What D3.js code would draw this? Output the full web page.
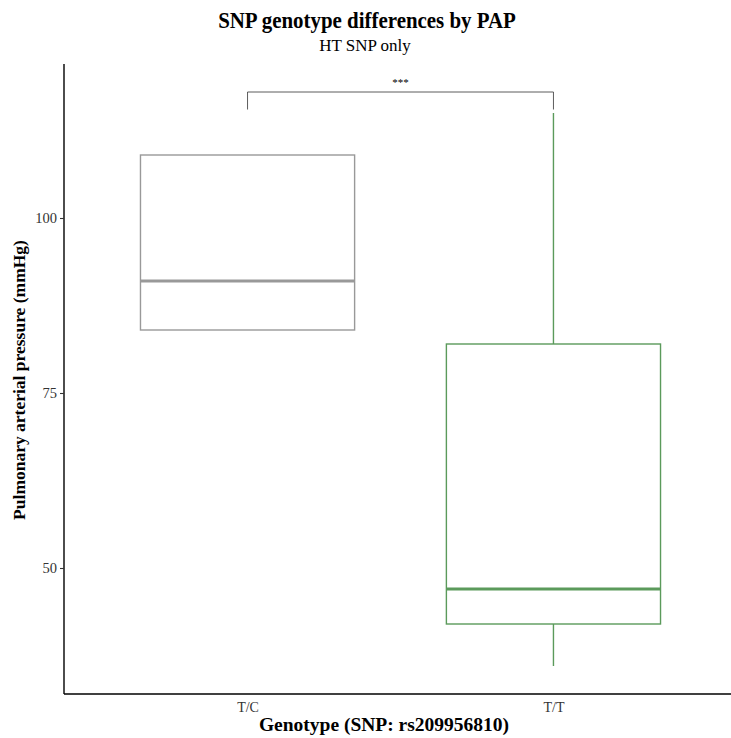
<!DOCTYPE html>
<html>
<head>
<meta charset="utf-8">
<script src="https://cdn.jsdelivr.net/npm/d3@7"></script>
<style>
  body { margin: 0; background: #fff; }
  text { font-family: "Liberation Serif", "Times New Roman", serif; }
</style>
</head>
<body>
<div id="chart"></div>
<script>
// box stats per genotype (mmHg)
var genotypes = ["T/C", "T/T"];
var lowWhisker = [84, 36];
var q1 = [84, 42];
var median = [91, 47];
var q3 = [109, 82];
var highWhisker = [109, 115];
var boxColors = ["#999999", "#5b9a5b"];
var yTicks = [50, 75, 100];
var sigLabel = "***";
var sigLevel = 118, sigDrop = 115.5;

var width = 731, height = 738;
var margin = {top: 64, right: -6, bottom: 44, left: 64};

var svg = d3.select("#chart").append("svg")
  .attr("width", width)
  .attr("height", height);

var x = d3.scalePoint()
  .domain(genotypes)
  .range([margin.left, width - margin.right])
  .padding(0.6);

var y = d3.scaleLinear()
  .domain([32, 122])
  .range([height - margin.bottom, margin.top]);

var boxW = x.step() * 0.7;

var data = genotypes.map(function(g, i) {
  return {g: g, lo: lowWhisker[i], q1: q1[i], med: median[i], q3: q3[i], hi: highWhisker[i], col: boxColors[i]};
});

var boxes = svg.selectAll("g.box")
  .data(data)
  .enter()
  .append("g")
  .attr("class", "box");

// whiskers
boxes.append("line")
  .attr("x1", function(d){ return x(d.g); })
  .attr("x2", function(d){ return x(d.g); })
  .attr("y1", function(d){ return y(d.q3); })
  .attr("y2", function(d){ return y(d.hi); })
  .attr("stroke", function(d){ return d.col; })
  .attr("stroke-width", 1.4);
boxes.append("line")
  .attr("x1", function(d){ return x(d.g); })
  .attr("x2", function(d){ return x(d.g); })
  .attr("y1", function(d){ return y(d.q1); })
  .attr("y2", function(d){ return y(d.lo); })
  .attr("stroke", function(d){ return d.col; })
  .attr("stroke-width", 1.4);

boxes.append("rect")
  .attr("x", function(d){ return x(d.g) - boxW / 2; })
  .attr("y", function(d){ return y(d.q3); })
  .attr("width", boxW)
  .attr("height", function(d){ return y(d.q1) - y(d.q3); })
  .attr("fill", "white")
  .attr("stroke", function(d){ return d.col; })
  .attr("stroke-width", 1.4);

boxes.append("line")
  .attr("x1", function(d){ return x(d.g) - boxW / 2; })
  .attr("x2", function(d){ return x(d.g) + boxW / 2; })
  .attr("y1", function(d){ return y(d.med); })
  .attr("y2", function(d){ return y(d.med); })
  .attr("stroke", function(d){ return d.col; })
  .attr("stroke-width", 2.8);

// axes
var yAxis = svg.append("g")
  .attr("transform", "translate(" + margin.left + ",0)")
  .call(d3.axisLeft(y).tickValues(yTicks).tickSize(4).tickPadding(3));
yAxis.select(".domain").attr("d", "M0," + margin.top + "V" + (height - margin.bottom))
  .attr("stroke", "#000").attr("stroke-width", 1.4);
yAxis.selectAll(".tick line").attr("stroke", "#333").attr("stroke-width", 1.1);
yAxis.selectAll(".tick text")
  .style("font-family", "Liberation Serif")
  .style("font-size", "14.5px")
  .attr("fill", "#333");

var xAxis = svg.append("g")
  .attr("transform", "translate(0," + (height - margin.bottom) + ")")
  .call(d3.axisBottom(x).tickSize(0).tickPadding(8));
xAxis.select(".domain").attr("d", "M" + margin.left + ",0H" + (width - margin.right))
  .attr("stroke", "#000").attr("stroke-width", 1.4);
xAxis.selectAll(".tick text")
  .style("font-family", "Liberation Serif")
  .style("font-size", "14px")
  .attr("fill", "#333");

// significance bracket
var x0 = x(genotypes[0]), x1 = x(genotypes[1]);
svg.append("path")
  .attr("d", "M" + x0 + "," + y(sigDrop) + "V" + y(sigLevel) + "H" + x1 + "V" + y(sigDrop))
  .attr("fill", "none")
  .attr("stroke", "#333")
  .attr("stroke-width", 0.8);
svg.append("text")
  .attr("x", (x0 + x1) / 2)
  .attr("y", y(sigLevel) - 6)
  .attr("text-anchor", "middle")
  .attr("fill", "#000")
  .style("font-size", "11px")
  .text(sigLabel);

// titles
svg.append("text")
  .attr("transform", "translate(367,28) scale(0.91,1)")
  .attr("text-anchor", "middle")
  .style("font-size", "23px")
  .style("font-weight", "bold")
  .text("SNP genotype differences by PAP");
svg.append("text")
  .attr("x", 365).attr("y", 51)
  .attr("text-anchor", "middle")
  .style("font-size", "17px")
  .text("HT SNP only");

svg.append("text")
  .attr("x", 384).attr("y", 731)
  .attr("text-anchor", "middle")
  .style("font-size", "19.5px")
  .style("font-weight", "bold")
  .text("Genotype (SNP: rs209956810)");

svg.append("text")
  .attr("transform", "translate(25," + ((margin.top + height - margin.bottom) / 2 + 1) + ") rotate(-90)")
  .attr("text-anchor", "middle")
  .style("font-size", "17.5px")
  .style("font-weight", "bold")
  .text("Pulmonary arterial pressure (mmHg)");
</script>
</body>
</html>
